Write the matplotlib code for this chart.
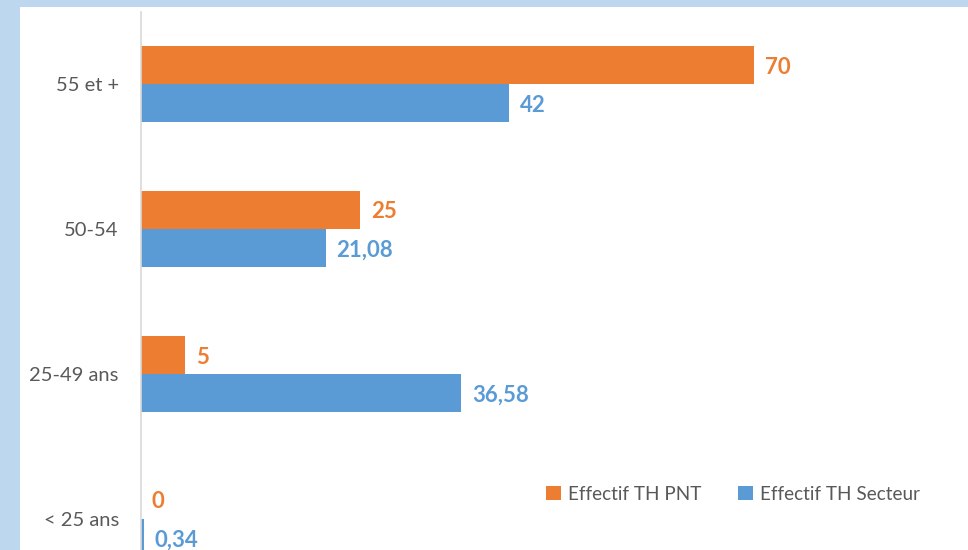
import matplotlib.pyplot as plt
from matplotlib.patches import Rectangle, Patch

# data (bottom to top)
categories = ["< 25 ans", "25-49 ans", "50-54", "55 et +"]
pnt = [0, 5, 25, 70]
secteur = [0.34, 36.58, 21.08, 42]
series_names = ["Effectif TH PNT", "Effectif TH Secteur"]

orange = "#ED7D31"
blue = "#5B9BD5"
grey_txt = "#595959"

plt.rcParams['font.family'] = ['Lato', 'DejaVu Sans']

W, H = 968, 550
fig = plt.figure(figsize=(W / 100, H / 100), dpi=100)
fig.patch.set_facecolor("#BDD7EE")
# white chart area inside the blue frame
fig.add_artist(Rectangle((20 / W, 0), 1, 1 - 7 / H, transform=fig.transFigure,
                         facecolor="white", edgecolor="none", zorder=-10))

# axes placed in pixels
left, right, top, bottom = 141, W, 12, H
ax = fig.add_axes([left / W, 1 - bottom / H, (right - left) / W, (bottom - top) / H])
ax.set_facecolor("none")
ax.set_zorder(2)

pitch = 145.0   # px between groups
bh = 38 / pitch  # bar height in category units
y0 = 519        # px centre of lowest group
ax.set_ylim((y0 - bottom) / pitch, (y0 - top) / pitch)
ax.set_xlim(0, (right - left) / 8.757)

ypos = list(range(len(categories)))
ax.barh([y + bh / 2 for y in ypos], pnt, height=bh, color=orange, label=series_names[0])
ax.barh([y - bh / 2 for y in ypos], secteur, height=bh, color=blue, label=series_names[1])


def fmt(v):
    return f"{v:g}".replace(".", ",")


for y, a, b in zip(ypos, pnt, secteur):
    ax.annotate(fmt(a), (a, y + bh / 2), xytext=(11, -2), textcoords="offset pixels",
                va="center", ha="left", color=orange, fontsize=16, fontweight="bold",
                annotation_clip=False)
    ax.annotate(fmt(b), (b, y - bh / 2), xytext=(11, -2), textcoords="offset pixels",
                va="center", ha="left", color=blue, fontsize=16, fontweight="bold",
                annotation_clip=False)

ax.set_yticks(ypos)
ax.set_yticklabels(categories, color=grey_txt, fontsize=14.5)
ax.tick_params(axis="y", length=0, pad=16)
ax.set_xticks([])
for s in ["top", "right", "bottom"]:
    ax.spines[s].set_visible(False)
ax.spines["left"].set_color("#D9D9D9")
ax.spines["left"].set_linewidth(1.2)

handles = [Patch(facecolor=orange), Patch(facecolor=blue)]
leg = fig.legend(handles, series_names, loc="center", ncol=2, frameon=False,
                 bbox_to_anchor=(733 / W, 1 - 494 / H), fontsize=13.6,
                 handlelength=0.8, handleheight=0.8, handletextpad=0.4, columnspacing=1.9,
                 labelcolor=grey_txt)
leg.set_zorder(3)

fig.savefig("out.png", dpi=100, facecolor=fig.get_facecolor())
